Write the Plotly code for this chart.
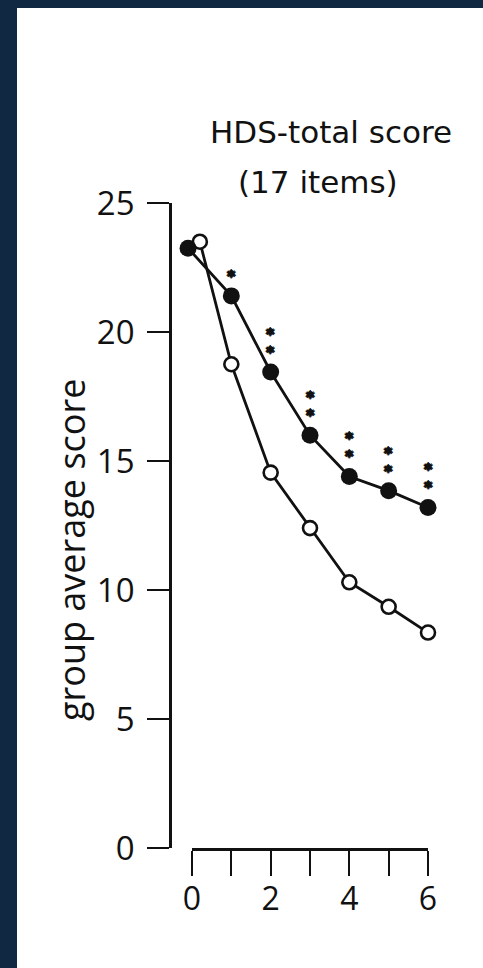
import plotly.graph_objects as go

# Weeks of treatment and group means of the HDS total score (17 items)
weeks_filled = [-0.1, 1, 2, 3, 4, 5, 6]
score_filled = [23.25, 21.4, 18.45, 16.0, 14.4, 13.85, 13.2]
weeks_open = [0.2, 1, 2, 3, 4, 5, 6]
score_open = [23.5, 18.75, 14.55, 12.4, 10.3, 9.35, 8.35]
# significance markers above the filled series
signif = ["", "*", "**", "**", "**", "**", "**"]

x_ticks = [0, 1, 2, 3, 4, 5, 6]
x_ticktext = ["0", "", "2", "", "4", "", "6"]
y_ticks = [0, 5, 10, 15, 20, 25]

W, H = 483, 968
NAVY = "#102842"
INK = "#111111"

# pixel frame of the axes
X0_PX, X6_PX = 192, 428
Y0_PX, Y25_PX = 848, 203
PX_PER_WEEK = (X6_PX - X0_PX) / 6
LEFT_PAD = 0.5  # data axis starts half a week before 0


def fx(px):
    return px / W


def fy(py):
    return (H - py) / H


fig = go.Figure()

common = dict(xaxis="x2", yaxis="y", cliponaxis=False, showlegend=False, hoverinfo="skip")

fig.add_trace(go.Scatter(
    x=weeks_open, y=score_open, mode="lines+markers",
    line=dict(color=INK, width=2.8),
    marker=dict(symbol="circle", size=14, color="white",
                line=dict(color=INK, width=2.6)),
    **common,
))
fig.add_trace(go.Scatter(
    x=weeks_filled, y=score_filled, mode="lines+markers",
    line=dict(color=INK, width=2.8),
    marker=dict(symbol="circle", size=17, color=INK,
                line=dict(color=INK, width=0)),
    **common,
))
# empty trace so the visible week axis gets its own subplot
fig.add_trace(go.Scatter(x=[], y=[], xaxis="x", yaxis="y", showlegend=False,
                         hoverinfo="skip"))

# stacked stars on a tight 14px-font line pitch, thickened with a text shadow
STAR_SHADOW = "1px 0 0 #111, -1px 0 0 #111, 0 1px 0 #111, 0 -1px 0 #111"
annotations = []
for xv, yv, s in zip(weeks_filled, score_filled, signif):
    if not s:
        continue
    star = "<b><span style='font-size:16px'>*</span></b>"
    annotations.append(dict(
        x=xv, y=yv, xref="x2", yref="y", text="<br>".join([star] * len(s)),
        showarrow=False, xanchor="center", yanchor="bottom", yshift=8,
        font=dict(family="DejaVu Sans", size=14, color=INK, shadow=STAR_SHADOW),
    ))

annotations += [
    dict(x=fx(331), y=fy(132), xref="paper", yref="paper", text="HDS-total score",
         showarrow=False, xanchor="center", yanchor="middle",
         font=dict(family="DejaVu Sans", size=31, color=INK)),
    dict(x=fx(318), y=fy(182), xref="paper", yref="paper", text="(17 items)",
         showarrow=False, xanchor="center", yanchor="middle",
         font=dict(family="DejaVu Sans", size=31, color=INK)),
    dict(x=fx(72), y=fy(550), xref="paper", yref="paper", text="group average score",
         showarrow=False, textangle=-90, xanchor="center", yanchor="middle",
         font=dict(family="Open Sans", size=36, color=INK)),
]

fig.update_layout(
    width=W, height=H,
    margin=dict(l=0, r=0, t=0, b=0),
    paper_bgcolor="white", plot_bgcolor="white",
    showlegend=False,
    annotations=annotations,
    shapes=[
        dict(type="rect", xref="paper", yref="paper", x0=0, x1=fx(17), y0=0, y1=1,
             fillcolor=NAVY, line=dict(width=0)),
        dict(type="rect", xref="paper", yref="paper", x0=0, x1=1, y0=fy(8), y1=1,
             fillcolor=NAVY, line=dict(width=0)),
    ],
    # visible week axis, spanning exactly 0..6
    xaxis=dict(
        domain=[fx(X0_PX), fx(X6_PX)], range=[0, 6],
        tickvals=x_ticks, ticktext=x_ticktext,
        ticks="outside", ticklen=25, tickwidth=2.4, tickcolor=INK,
        ticklabelstandoff=-4,
        showline=True, linecolor=INK, linewidth=2.6,
        showgrid=False, zeroline=False, automargin=False, fixedrange=True,
        tickfont=dict(family="Open Sans", size=32, color=INK),
    ),
    # hidden data axis with the same scale, reaching a little left of week 0
    xaxis2=dict(
        domain=[fx(X0_PX - LEFT_PAD * PX_PER_WEEK), fx(X6_PX)], range=[-LEFT_PAD, 6],
        anchor="y", visible=False, showgrid=False, zeroline=False, fixedrange=True,
    ),
    yaxis=dict(
        domain=[fy(Y0_PX), fy(Y25_PX)], range=[0, 25],
        anchor="free", position=fx(170),
        tickvals=y_ticks,
        ticks="outside", ticklen=22, tickwidth=2.4, tickcolor=INK,
        ticklabelstandoff=6,
        showline=True, linecolor=INK, linewidth=2.6,
        showgrid=False, zeroline=False, automargin=False, fixedrange=True,
        tickfont=dict(family="Open Sans", size=33, color=INK),
    ),
)

fig.write_html("out.html")
